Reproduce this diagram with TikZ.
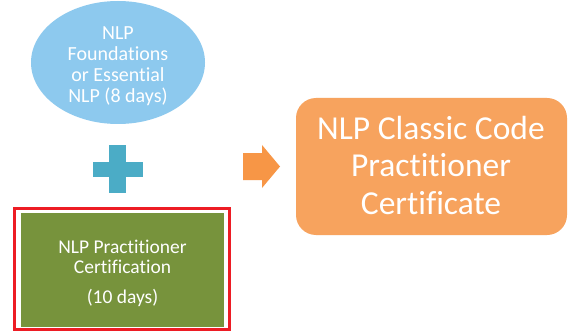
\documentclass[tikz,border=0pt]{standalone}
\usepackage{fontspec}
\setmainfont{Carlito}[Ligatures=CommonOff]
\definecolor{lblue}{HTML}{8DC9EE}
\definecolor{teal}{HTML}{4BACC6}
\definecolor{olive}{HTML}{77933C}
\definecolor{frame}{HTML}{ED1C24}
\definecolor{orarrow}{HTML}{F79646}
\definecolor{orbox}{HTML}{F7A35E}
\tikzset{
  txt/.style={text=white, align=center, inner sep=0pt},
}
\begin{document}
\begin{tikzpicture}[x=1pt,y=-1pt]
\useasboundingbox[fill=white] (0,0) rectangle (569,331);
% ellipse
\fill[lblue] (118,62.5) ellipse [x radius=87, y radius=61.5];
\node[txt, font=\fontsize{20}{21}\selectfont] (found) at (118,66.5)
  {NLP\\Foundations\\or Essential\\NLP (8 days)};
% plus
\fill[teal] (109,145) rectangle (126,193);
\fill[teal] (93,162) rectangle (143,177);
\coordinate (plus) at (118,169);
% red frame and green box
\draw[frame, line width=3pt] (14.5,208.5) rectangle (229.5,329.5);
\node[fill=olive, minimum width=203pt, minimum height=114pt, inner sep=0pt] (prac) at (122.5,270) {};
\node[txt, font=\fontsize{19.5}{20}\selectfont] (practxt) at (122.5,273.5)
  {NLP Practitioner\\Certification\\[10pt](10 days)};
% arrow
\fill[orarrow] (243,153) -- (262,153) -- (262,145) -- (280,166.5) -- (262,188) -- (262,180) -- (243,180) -- cycle;
% result box
\node[fill=orbox, rounded corners=20pt, minimum width=271pt, minimum height=137pt, inner sep=0pt] (cert) at (431.5,166.5) {};
\node[txt, font=\fontsize{33.5}{37.5}\selectfont] (certtxt) at (431,165)
  {NLP Classic Code\\Practitioner\\Certificate};
\end{tikzpicture}
\end{document}
